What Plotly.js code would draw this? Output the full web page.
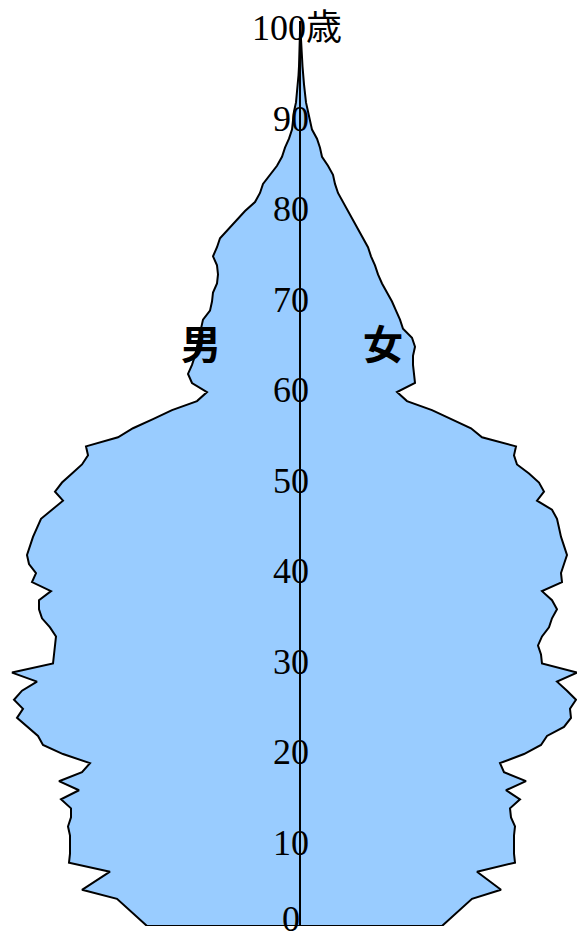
<!DOCTYPE html>
<html>
<head>
<meta charset="utf-8">
<script src="https://cdn.plot.ly/plotly-3.0.1.min.js"></script>
<style>
  html, body { margin: 0; padding: 0; background: #fff; }
  #grafica { width: 577px; height: 933px; }
</style>
</head>
<body>
<div id="grafica"></div>
<script>
// ages 0..100, relative population
const ages = Array.from({ length: 101 }, (_, i) => i);

const male = [
  153, 163, 173, 183, 218, 204, 190, 231, 230, 230,
  230, 232, 229, 229, 239, 221, 241, 218, 210, 237,
  257, 262, 273, 283, 277, 286, 278, 263, 288, 247,
  246, 245, 244, 250, 258, 261, 261, 249, 268, 264,
  271, 273, 270, 267, 263, 259, 248, 237, 245, 238,
  228, 218, 212, 214, 182, 167, 147, 128, 103, 93,
  108, 112, 108, 105, 103, 101, 99, 97, 90, 88,
  87, 83, 82, 83, 87, 83, 80, 72, 63, 55,
  45, 40, 37, 30, 23, 18, 15, 11, 8, 7,
  6, 4, 3, 2, 1.5, 1, 0.8, 0.5, 0.3, 0.2,
  0.1
];

const female = [
  142, 151, 162, 172, 201, 189, 177, 215, 214, 214,
  214, 215, 211, 210, 220, 206, 226, 204, 200, 224,
  241, 247, 264, 271, 270, 276, 267, 257, 277, 242,
  241, 238, 242, 249, 252, 257, 252, 242, 262, 261,
  264, 267, 264, 261, 259, 257, 252, 237, 244, 239,
  229, 217, 214, 216, 182, 171, 151, 132, 107, 97,
  115, 114, 113, 113, 115, 112, 103, 100, 96, 92,
  87, 82, 78, 75, 71, 68, 63, 58, 53, 48,
  43, 38, 35, 33, 28, 22, 20, 17, 12, 10,
  8, 6, 5, 4, 3, 2.5, 2, 1.2, 0.8, 0.5,
  0.3
];

const tickAges = [0, 10, 20, 30, 40, 50, 60, 70, 80, 90, 100];
const tickLabels = ['0', '10', '20', '30', '40', '50', '60', '70', '80', '90', '100歳'];

// outline: male side going up, female side coming down, then close
const xs = male.map(v => -v).concat(female.slice().reverse(), [-male[0]]);
const ys = ages.concat(ages.slice().reverse(), [ages[0]]);

const piramide = {
  x: xs,
  y: ys,
  type: 'scatter',
  mode: 'lines',
  fill: 'toself',
  fillcolor: '#99ccff',
  line: { color: 'black', width: 2 },
  cliponaxis: false,
  hoverinfo: 'skip'
};

const serif = 'Liberation Serif, Times New Roman, Noto Sans CJK JP, serif';

const anotaciones = tickAges.map((a, i) => ({
  x: i === tickAges.length - 1 ? -3 : -9,
  y: a,
  xref: 'x',
  yref: 'y',
  text: tickLabels[i],
  showarrow: false,
  xanchor: 'center',
  yanchor: 'middle',
  yshift: a === 0 ? 7 : -7,
  font: { family: serif, size: 36, color: 'black' }
}));

anotaciones.push(
  { x: -99, y: 64.5, text: '男', showarrow: false, xanchor: 'center', yanchor: 'middle',
    font: { family: 'Noto Sans CJK JP', size: 40, color: 'black', weight: 'bold' } },
  { x: 83, y: 64.5, text: '女', showarrow: false, xanchor: 'center', yanchor: 'middle',
    font: { family: 'Noto Sans CJK JP', size: 40, color: 'black', weight: 'bold' } }
);

const layout = {
  width: 577,
  height: 933,
  margin: { l: 0, r: 0, t: 21, b: 7 },
  paper_bgcolor: 'white',
  plot_bgcolor: 'white',
  showlegend: false,
  xaxis: { range: [-300, 277], visible: false, fixedrange: true },
  yaxis: { range: [0, 100], visible: false, fixedrange: true },
  shapes: [{
    type: 'line', xref: 'x', yref: 'y',
    x0: 0, x1: 0, y0: 0, y1: 100.3,
    line: { color: 'black', width: 2 }
  }],
  annotations: anotaciones
};

Plotly.newPlot('grafica', [piramide], layout, { displayModeBar: false, staticPlot: true });
</script>
</body>
</html>
